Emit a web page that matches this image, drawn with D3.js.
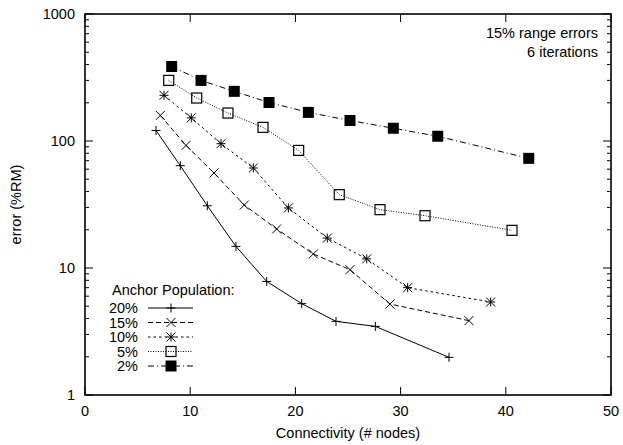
<!DOCTYPE html>
<html>
<head>
<meta charset="utf-8">
<script src="https://cdn.jsdelivr.net/npm/d3@7"></script>
<style>
  body { margin: 0; background: #fff; }
  text { font-family: "Liberation Sans", Arial, sans-serif; fill: #000; }
</style>
</head>
<body>
<div id="chart"></div>
<script>
// series values (x = connectivity, y = error %RM)
var pop20x = [6.75, 9.06, 11.63, 14.35, 17.27, 20.6, 23.86, 27.6, 34.6];
var pop20y = [121, 63.9, 30.9, 14.8, 7.84, 5.24, 3.8, 3.47, 1.98];
var pop15x = [7.16, 9.6, 12.26, 15.14, 18.22, 21.7, 25.19, 28.99, 36.5];
var pop15y = [159, 92.3, 56, 31.3, 20.3, 12.9, 9.7, 5.2, 3.85];
var pop10x = [7.51, 10.1, 12.93, 16.0, 19.33, 23.03, 26.78, 30.67, 38.56];
var pop10y = [229, 152, 95.2, 61.3, 29.7, 17.2, 11.8, 7.0, 5.4];
var pop5x = [7.96, 10.62, 13.59, 16.92, 20.31, 24.17, 28.04, 32.32, 40.59];
var pop5y = [300, 218, 166, 128, 84.3, 37.8, 28.8, 25.8, 19.8];
var pop2x = [8.24, 11.03, 14.19, 17.49, 21.23, 25.19, 29.31, 33.53, 42.18];
var pop2y = [386, 300, 246, 201, 168, 145, 126, 109, 73];

var seriesNames = ["20%", "15%", "10%", "5%", "2%"];
var xTicks = [0, 10, 20, 30, 40, 50];
var yTicks = [1, 10, 100, 1000];

var width = 623, height = 445;
var margin = {left: 85, right: 12, top: 14, bottom: 50};
var fs = "14.5px";

var svg = d3.select("#chart").append("svg")
  .attr("width", width)
  .attr("height", height);

var x = d3.scaleLinear().domain([0, 50]).range([margin.left, width - margin.right]);
var y = d3.scaleLog().domain([1, 1000]).range([height - margin.bottom, margin.top]);

var series = [
  {name: seriesNames[0], xs: pop20x, ys: pop20y, dash: null, marker: "plus"},
  {name: seriesNames[1], xs: pop15x, ys: pop15y, dash: "5,3", marker: "cross"},
  {name: seriesNames[2], xs: pop10x, ys: pop10y, dash: "2.5,3", marker: "star"},
  {name: seriesNames[3], xs: pop5x, ys: pop5y, dash: "1,1.5", marker: "square"},
  {name: seriesNames[4], xs: pop2x, ys: pop2y, dash: "6,3,1,3", marker: "filled"}
];

// minor ticks on y, both sides
var minor = [];
[1, 10, 100].forEach(function (d) {
  for (var k = 2; k <= 9; k++) minor.push(d * k);
});

var ticks = svg.append("g").attr("stroke", "#000").attr("stroke-width", 1);
minor.forEach(function (v) {
  ticks.append("line").attr("x1", x(0)).attr("x2", x(0) + 4).attr("y1", y(v)).attr("y2", y(v));
  ticks.append("line").attr("x1", x(50)).attr("x2", x(50) - 4).attr("y1", y(v)).attr("y2", y(v));
});
yTicks.forEach(function (v) {
  ticks.append("line").attr("x1", x(0)).attr("x2", x(0) + 8).attr("y1", y(v)).attr("y2", y(v));
  ticks.append("line").attr("x1", x(50)).attr("x2", x(50) - 8).attr("y1", y(v)).attr("y2", y(v));
  svg.append("text")
    .attr("x", x(0) - 10).attr("y", y(v)).attr("dy", "0.35em")
    .style("text-anchor", "end").style("font-size", fs)
    .text(v);
});
xTicks.forEach(function (v) {
  ticks.append("line").attr("x1", x(v)).attr("x2", x(v)).attr("y1", y(1)).attr("y2", y(1) - 8);
  ticks.append("line").attr("x1", x(v)).attr("x2", x(v)).attr("y1", y(1000)).attr("y2", y(1000) + 8);
  svg.append("text")
    .attr("x", x(v)).attr("y", y(1) + 21)
    .style("text-anchor", "middle").style("font-size", fs)
    .text(v);
});

svg.append("rect")
  .attr("x", x(0)).attr("y", y(1000))
  .attr("width", x(50) - x(0)).attr("height", y(1) - y(1000))
  .attr("fill", "none").attr("stroke", "#000").attr("stroke-width", 1.6);

svg.append("text")
  .attr("x", (x(0) + x(50)) / 2).attr("y", 438)
  .style("text-anchor", "middle").style("font-size", fs)
  .text("Connectivity (# nodes)");

svg.append("text")
  .attr("transform", "translate(21," + ((y(1) + y(1000)) / 2) + ") rotate(-90)")
  .style("text-anchor", "middle").style("font-size", fs)
  .text("error (%RM)");

svg.append("text")
  .attr("x", 598).attr("y", 38)
  .style("text-anchor", "end").style("font-size", fs)
  .text("15% range errors");
svg.append("text")
  .attr("x", 598).attr("y", 57)
  .style("text-anchor", "end").style("font-size", fs)
  .text("6 iterations");

function drawMarker(g, type, cx, cy) {
  var s = 4.5;
  if (type === "plus") {
    g.append("path").attr("d", "M" + (cx - s) + "," + cy + "H" + (cx + s) + "M" + cx + "," + (cy - s) + "V" + (cy + s))
      .attr("stroke", "#000").attr("stroke-width", 1).attr("fill", "none");
  } else if (type === "cross") {
    g.append("path").attr("d", "M" + (cx - s) + "," + (cy - s) + "L" + (cx + s) + "," + (cy + s) +
      "M" + (cx - s) + "," + (cy + s) + "L" + (cx + s) + "," + (cy - s))
      .attr("stroke", "#000").attr("stroke-width", 1).attr("fill", "none");
  } else if (type === "star") {
    g.append("path").attr("d", "M" + (cx - s) + "," + cy + "H" + (cx + s) + "M" + cx + "," + (cy - s) + "V" + (cy + s) +
      "M" + (cx - s) + "," + (cy - s) + "L" + (cx + s) + "," + (cy + s) +
      "M" + (cx - s) + "," + (cy + s) + "L" + (cx + s) + "," + (cy - s))
      .attr("stroke", "#000").attr("stroke-width", 1).attr("fill", "none");
  } else if (type === "square") {
    g.append("rect").attr("x", cx - 5).attr("y", cy - 5).attr("width", 10).attr("height", 10)
      .attr("fill", "none").attr("stroke", "#000").attr("stroke-width", 1.2);
  } else {
    g.append("rect").attr("x", cx - 5.5).attr("y", cy - 5.5).attr("width", 11).attr("height", 11)
      .attr("fill", "#000");
  }
}

var line = d3.line()
  .x(function (d) { return x(d[0]); })
  .y(function (d) { return y(d[1]); });

series.forEach(function (s) {
  var pts = s.xs.map(function (v, i) { return [v, s.ys[i]]; });
  var g = svg.append("g");
  g.append("path")
    .attr("d", line(pts))
    .attr("fill", "none").attr("stroke", "#000").attr("stroke-width", 1)
    .attr("stroke-dasharray", s.dash);
  pts.forEach(function (p) { drawMarker(g, s.marker, x(p[0]), y(p[1])); });
});

// legend
svg.append("text")
  .attr("x", 112).attr("y", 295)
  .style("font-size", fs)
  .text("Anchor Population:");

var legend = svg.selectAll(".legend")
  .data(series)
  .enter().append("g")
  .attr("class", "legend")
  .attr("transform", function (d, i) {
    return "translate(0 " + (308 + i * 14.5) + ")";
  });

legend.append("text")
  .attr("x", 138).attr("dy", "0.35em")
  .style("text-anchor", "end").style("font-size", fs)
  .text(function (d) { return d.name; });

legend.append("line")
  .attr("x1", 148).attr("x2", 193).attr("y1", 0).attr("y2", 0)
  .attr("stroke", "#000").attr("stroke-width", 1)
  .attr("stroke-dasharray", function (d) { return d.dash; });

legend.each(function (d) {
  drawMarker(d3.select(this), d.marker, 171, 0);
});
</script>
</body>
</html>
